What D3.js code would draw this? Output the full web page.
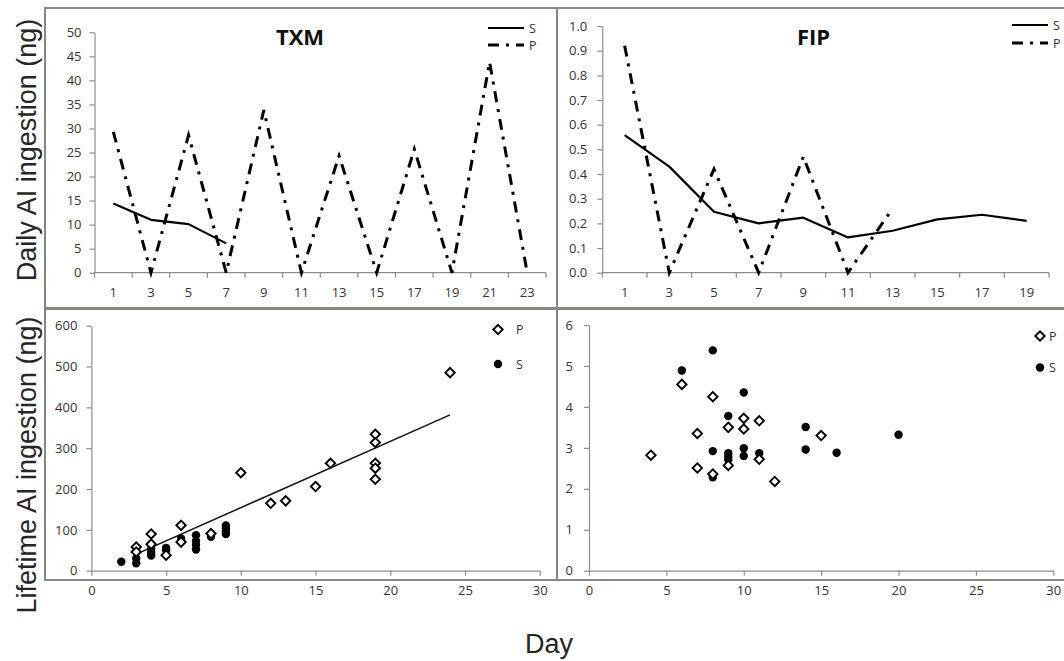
<!DOCTYPE html>
<html>
<head>
<meta charset="utf-8">
<script src="https://cdn.jsdelivr.net/npm/d3@7"></script>
<style>
  body { margin: 0; background: #fff; }
  svg { display: block; }
</style>
</head>
<body>
<svg id="chart" width="1064" height="661"></svg>
<script>
// ---- Daily AI ingestion (ng), recorded every other day ----
const txmDays = [1, 3, 5, 7, 9, 11, 13, 15, 17, 19, 21, 23];
const txmS = [14.4, 11.0, 10.1, 6.1];                 // days 1–7
const txmP = [29.3, 0, 28.6, 0, 33.8, 0, 24.3, 0, 25.7, 0, 43.8, 0];
const txmTicks = [0, 5, 10, 15, 20, 25, 30, 35, 40, 45, 50];

const fipDays = [1, 3, 5, 7, 9, 11, 13, 15, 17, 19];
const fipS = [0.558, 0.43, 0.247, 0.2, 0.223, 0.143, 0.17, 0.216, 0.235, 0.21];
const fipP = [0.92, 0, 0.42, 0, 0.47, 0, 0.26];      // days 1–13
const fipTicks = [0, 0.1, 0.2, 0.3, 0.4, 0.5, 0.6, 0.7, 0.8, 0.9, 1.0];

// ---- Lifetime AI ingestion (ng) against day ----
const txmLifeP = [[3, 58], [3, 46], [4, 90], [4, 65], [5, 38], [6, 111], [6, 70], [8, 91],
  [10, 240], [12, 165], [13, 171], [15, 206], [16, 263], [19, 334], [19, 314], [19, 263],
  [19, 251], [19, 224], [24, 485]];
const txmLifeS = [[2, 22], [3, 30], [3, 18], [4, 53], [4, 44], [4, 37], [5, 56], [5, 50],
  [6, 79], [6, 74], [7, 87], [7, 73], [7, 63], [7, 52], [8, 83], [9, 111], [9, 104], [9, 96], [9, 90]];
const txmLifeTicks = [0, 100, 200, 300, 400, 500, 600];

const fipLifeP = [[4, 2.82], [6, 4.55], [7, 3.35], [7, 2.51], [8, 4.25], [8, 2.36], [9, 3.5],
  [9, 2.57], [10, 3.72], [10, 3.46], [11, 3.66], [11, 2.72], [12, 2.18], [15, 3.3]];
const fipLifeS = [[6, 4.89], [8, 5.38], [8, 2.92], [8, 2.28], [9, 3.78], [9, 2.87], [9, 2.79],
  [9, 2.71], [10, 4.35], [10, 2.99], [10, 2.8], [11, 2.87], [14, 3.51], [14, 2.96], [16, 2.88], [20, 3.32]];
const fipLifeTicks = [0, 1, 2, 3, 4, 5, 6];

const dayTicks = [0, 5, 10, 15, 20, 25, 30];

// ---- styling ----
const tickFont = "'Open Sans', sans-serif";
const titleFont = "'Liberation Sans', Arial, sans-serif";
const axisColor = "#8c8c8c";
const textColor = "#333333";
const frameColor = "#8c8680";
const dashDot = "11,7,3,7";

const svg = d3.select("#chart");

// panel frames
const frames = [
  { x: 45, y: 8, w: 512, h: 300 },
  { x: 557, y: 8, w: 512, h: 300 },
  { x: 45, y: 309, w: 512, h: 271 },
  { x: 557, y: 309, w: 512, h: 271 }
];
svg.selectAll("rect.frame").data(frames).join("rect")
  .attr("class", "frame")
  .attr("x", d => d.x).attr("y", d => d.y)
  .attr("width", d => d.w).attr("height", d => d.h)
  .attr("fill", "none").attr("stroke", frameColor).attr("stroke-width", 2);

function styleAxis(g) {
  g.select(".domain").attr("stroke", axisColor).attr("stroke-width", 1.2);
  g.selectAll(".tick line").attr("stroke", axisColor).attr("stroke-width", 1.2);
  g.selectAll(".tick text").attr("fill", textColor)
    .attr("font-family", tickFont).attr("font-size", 13);
}

// ---- daily line panels ----
function linePanel(o) {
  const g = svg.append("g");
  const x = d3.scaleBand().domain(o.days).range([o.x0, o.x1]).padding(0);
  const xc = d => x(d) + x.bandwidth() / 2;
  const y = d3.scaleLinear().domain([0, o.yMax]).range([o.y0, o.yTop]);

  // y axis
  g.append("g").attr("transform", `translate(${o.x0},0)`)
    .call(d3.axisLeft(y).tickValues(o.yTicks).tickFormat(o.yFmt)
      .tickSize(5).tickSizeOuter(0).tickPadding(o.yPad))
    .call(styleAxis);

  // category axis: labels centred in each band, tick marks on band edges
  const xa = g.append("g").attr("transform", `translate(0,${o.y0})`)
    .call(d3.axisBottom(x).tickSize(0).tickPadding(15))
    .call(styleAxis);
  xa.select(".domain").remove();
  const edges = o.days.map(d => x(d)).concat([x(o.days[o.days.length - 1]) + x.bandwidth()]);
  g.append("line").attr("x1", o.x0).attr("x2", o.x1).attr("y1", o.y0).attr("y2", o.y0)
    .attr("stroke", axisColor).attr("stroke-width", 1.2);
  g.selectAll("line.edge").data(edges).join("line").attr("class", "edge")
    .attr("x1", d => d).attr("x2", d => d).attr("y1", o.y0).attr("y2", o.y0 + 5)
    .attr("stroke", axisColor).attr("stroke-width", 1.2);

  const line = d3.line().x(d => xc(d.day)).y(d => y(d.v));
  const sPts = o.s.map((v, i) => ({ day: o.days[i], v }));
  const pPts = o.p.map((v, i) => ({ day: o.days[i], v }));

  g.append("path").datum(pPts).attr("d", line)
    .attr("fill", "none").attr("stroke", "#000").attr("stroke-width", 3)
    .attr("stroke-dasharray", dashDot);
  g.append("path").datum(sPts).attr("d", line)
    .attr("fill", "none").attr("stroke", "#000").attr("stroke-width", 2.2)
    .attr("stroke-linejoin", "round");

  // title
  g.append("text").attr("x", o.titleX).attr("y", 45).attr("text-anchor", "middle")
    .attr("font-family", tickFont).attr("font-weight", 700).attr("font-size", 22)
    .attr("fill", "#111").text(o.title);

  // legend
  const lg = g.append("g");
  [["S", null, o.legS], ["P", dashDot, o.legP]].forEach(([name, dash, ly]) => {
    lg.append("line").attr("x1", o.legX).attr("x2", o.legX + 36)
      .attr("y1", ly).attr("y2", ly)
      .attr("stroke", "#000").attr("stroke-width", name === "S" ? 2.2 : 3)
      .attr("stroke-dasharray", dash);
    lg.append("text").attr("x", o.legX + 41).attr("y", ly + 4.5)
      .attr("font-family", tickFont).attr("font-size", 12.5).attr("fill", textColor)
      .text(name);
  });
}

linePanel({
  days: txmDays, s: txmS, p: txmP, yMax: 50, yTicks: txmTicks, yFmt: d3.format("d"), yPad: 8,
  x0: 94.5, x1: 546, y0: 272.7, yTop: 32.3, title: "TXM", titleX: 300,
  legX: 488, legS: 28, legP: 45
});
linePanel({
  days: fipDays, s: fipS, p: fipP, yMax: 1, yTicks: fipTicks, yFmt: d3.format(".1f"), yPad: 10,
  x0: 602.3, x1: 1049, y0: 272.7, yTop: 26, title: "FIP", titleX: 813.5,
  legX: 1012, legS: 25, legP: 43
});

// ---- lifetime scatter panels ----
const diamond = d3.symbol().type(d3.symbolSquare).size(44);

function scatterPanel(o) {
  const g = svg.append("g");
  const x = d3.scaleLinear().domain([0, 30]).range([o.x0, o.x1]);
  const y = d3.scaleLinear().domain([0, o.yMax]).range([o.y0, o.yTop]);

  g.append("g").attr("transform", `translate(${o.x0},0)`)
    .call(d3.axisLeft(y).tickValues(o.yTicks).tickFormat(d3.format("d"))
      .tickSize(5).tickSizeOuter(0).tickPadding(o.yPad))
    .call(styleAxis);
  g.append("g").attr("transform", `translate(0,${o.y0})`)
    .call(d3.axisBottom(x).tickValues(dayTicks).tickFormat(d3.format("d"))
      .tickSize(5).tickSizeOuter(0).tickPadding(10))
    .call(styleAxis);

  if (o.fit) {
    // least-squares trend of the P series over its day range
    const mx = d3.mean(o.p, d => d[0]), my = d3.mean(o.p, d => d[1]);
    const sxy = d3.sum(o.p, d => (d[0] - mx) * (d[1] - my));
    const sxx = d3.sum(o.p, d => (d[0] - mx) ** 2);
    const b = sxy / sxx, a = my - b * mx;
    const [lo, hi] = d3.extent(o.p, d => d[0]);
    g.append("line").attr("x1", x(lo)).attr("y1", y(a + b * lo))
      .attr("x2", x(hi)).attr("y2", y(a + b * hi))
      .attr("stroke", "#111").attr("stroke-width", 1.5);
  }

  g.selectAll("circle.s").data(o.s).join("circle").attr("class", "s")
    .attr("cx", d => x(d[0])).attr("cy", d => y(d[1])).attr("r", 4.2)
    .attr("fill", "#000");
  g.selectAll("path.p").data(o.p).join("path").attr("class", "p")
    .attr("d", diamond)
    .attr("transform", d => `translate(${x(d[0])},${y(d[1])}) rotate(45)`)
    .attr("fill", "#fff").attr("stroke", "#000").attr("stroke-width", 1.9);

  // legend
  g.append("path").attr("d", diamond)
    .attr("transform", `translate(${o.legX},${o.legP}) rotate(45)`)
    .attr("fill", "#fff").attr("stroke", "#000").attr("stroke-width", 1.9);
  g.append("circle").attr("cx", o.legX).attr("cy", o.legS).attr("r", 4.2).attr("fill", "#000");
  [["P", o.legP], ["S", o.legS]].forEach(([name, ly]) => {
    g.append("text").attr("x", o.legX + o.legGap).attr("y", ly + 4.5)
      .attr("font-family", tickFont).attr("font-size", 12.5).attr("fill", textColor).text(name);
  });
}

scatterPanel({
  p: txmLifeP, s: txmLifeS, yMax: 600, yTicks: txmLifeTicks, yPad: 9, fit: true,
  x0: 91.4, x1: 539.7, y0: 570.7, yTop: 325.7, legX: 498, legP: 329.5, legS: 364, legGap: 18
});
scatterPanel({
  p: fipLifeP, s: fipLifeS, yMax: 6, yTicks: fipLifeTicks, yPad: 11, fit: false,
  x0: 589, x1: 1053.3, y0: 570.7, yTop: 325, legX: 1040, legP: 336, legS: 367.5, legGap: 9
});

// ---- shared axis titles ----
svg.append("text")
  .attr("transform", "translate(36,150) rotate(-90)")
  .attr("text-anchor", "middle").attr("font-family", titleFont)
  .attr("font-size", 27).attr("fill", "#262626")
  .text("Daily AI ingestion (ng)");
svg.append("text")
  .attr("transform", "translate(36,465) rotate(-90)")
  .attr("text-anchor", "middle").attr("font-family", titleFont)
  .attr("font-size", 27).attr("fill", "#262626")
  .text("Lifetime AI ingestion (ng)");
svg.append("text")
  .attr("x", 549).attr("y", 653).attr("text-anchor", "middle")
  .attr("font-family", titleFont).attr("font-size", 27).attr("fill", "#262626")
  .text("Day");
</script>
</body>
</html>
